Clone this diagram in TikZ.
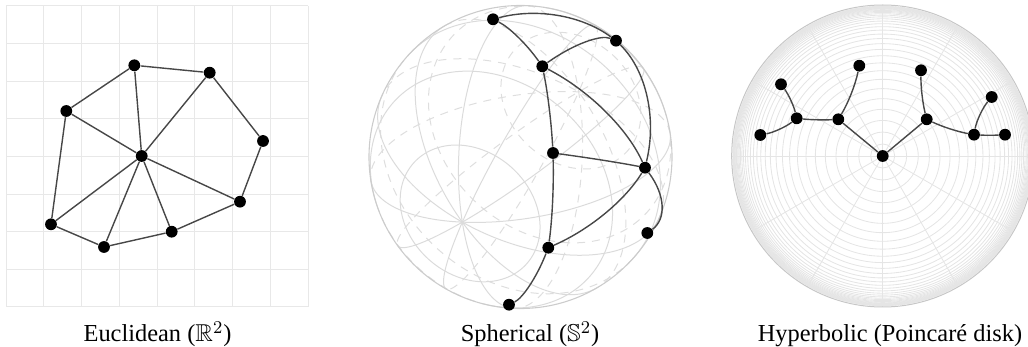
\documentclass[tikz,border=0pt]{standalone}
\usepackage{fontspec}
\setmainfont{Liberation Serif}
\usepackage{amssymb}
\pgfdeclarelayer{bg}
\pgfdeclarelayer{edgelayer}
\pgfsetlayers{bg,edgelayer,main}
\tikzset{
  dot/.style={circle,fill=black,inner sep=0pt,minimum size=5.9pt},
  edge/.style={draw=black!72,line width=0.7pt},
  eucgrid/.style={draw=black!9,line width=0.5pt},
  sphfront/.style={draw=black!14,line width=0.5pt},
  sphback/.style={draw=black!13,line width=0.5pt,dash pattern=on 4pt off 3.5pt},
  sphout/.style={draw=black!20,line width=0.55pt},
  hypline/.style={draw=black!10,line width=0.42pt},
  hypout/.style={draw=black!22,line width=0.5pt},
  lbl/.style={anchor=base,inner sep=0pt,font=\fontsize{12.2}{14}\selectfont},
}
% sphere: centre (520.5,157), radius 151.5 (pixel units)
\newcommand\sphpt[4]{%
  \pgfmathsetmacro\tmpx{(#2-520.5)/151.5}%
  \pgfmathsetmacro\tmpy{(#3-157)/151.5}%
  \pgfmathsetmacro\tmpz{(#4)*sqrt(max(0,1-(\tmpx)*(\tmpx)-(\tmpy)*(\tmpy)))}%
  \expandafter\xdef\csname SX#1\endcsname{\tmpx}%
  \expandafter\xdef\csname SY#1\endcsname{\tmpy}%
  \expandafter\xdef\csname SZ#1\endcsname{\tmpz}%
  \node[dot] (#1) at (#2,#3) {};%
}
\newcommand\sphedge[2]{%
  \edef\sAx{\csname SX#1\endcsname}\edef\sAy{\csname SY#1\endcsname}\edef\sAz{\csname SZ#1\endcsname}%
  \edef\sBx{\csname SX#2\endcsname}\edef\sBy{\csname SY#2\endcsname}\edef\sBz{\csname SZ#2\endcsname}%
  \pgfmathsetmacro\sCt{(\sAx)*(\sBx)+(\sAy)*(\sBy)+(\sAz)*(\sBz)}%
  \pgfmathsetmacro\sTh{acos(min(1,\sCt))}%
  \pgfmathsetmacro\sK{4/3*tan(\sTh/4)/sin(\sTh)}%
  \pgfmathsetmacro\sPx{520.5+151.5*((\sAx)+(\sK)*((\sBx)-(\sCt)*(\sAx)))}%
  \pgfmathsetmacro\sPy{157+151.5*((\sAy)+(\sK)*((\sBy)-(\sCt)*(\sAy)))}%
  \pgfmathsetmacro\sQx{520.5+151.5*((\sBx)+(\sK)*((\sAx)-(\sCt)*(\sBx)))}%
  \pgfmathsetmacro\sQy{157+151.5*((\sBy)+(\sK)*((\sAy)-(\sCt)*(\sBy)))}%
  \draw[edge] (#1) .. controls (\sPx,\sPy) and (\sQx,\sQy) .. (#2);%
}
\newcommand\sphcirc[9]{%
  \pgfmathsetmacro\gRz{sqrt((#6)*(#6)+(#9)*(#9))}%
  \pgfmathsetmacro\gPh{atan2(#9,#6)}%
  \pgfmathsetmacro\gH{max(-1,min(1,-(#3)/\gRz))}%
  \pgfmathsetmacro\gAl{acos(\gH)}%
  \pgfmathsetmacro\gA{\gPh-\gAl}%
  \pgfmathsetmacro\gB{\gPh+\gAl}%
  \pgfmathsetmacro\gC{\gPh+360-\gAl}%
  \ifdim\gAl pt>0.5pt
    \draw[sphfront] plot[domain=\gA:\gB,samples=80,smooth] ({520.5+151.5*((#1)+(#4)*cos(\x)+(#7)*sin(\x))},{157+151.5*((#2)+(#5)*cos(\x)+(#8)*sin(\x))});
  \fi
  \ifdim\gAl pt<179.5pt
    \draw[sphback] plot[domain=\gB:\gC,samples=80,smooth] ({520.5+151.5*((#1)+(#4)*cos(\x)+(#7)*sin(\x))},{157+151.5*((#2)+(#5)*cos(\x)+(#8)*sin(\x))});
  \fi
}
% hyperbolic disk: centre (882.7,156), radius 151
\newcommand\hyppt[3]{%
  \pgfmathsetmacro\tmpx{(#2-882.7)/151}%
  \pgfmathsetmacro\tmpy{(#3-156)/151}%
  \expandafter\xdef\csname HX#1\endcsname{\tmpx}%
  \expandafter\xdef\csname HY#1\endcsname{\tmpy}%
  \node[dot] (#1) at (#2,#3) {};%
}
\newcommand\hypedge[2]{%
  \edef\hPx{\csname HX#1\endcsname}\edef\hPy{\csname HY#1\endcsname}%
  \edef\hQx{\csname HX#2\endcsname}\edef\hQy{\csname HY#2\endcsname}%
  \pgfmathsetmacro\hDa{abs((\hPx)*(\hQy)-(\hPy)*(\hQx))}%
  \ifdim\hDa pt<0.002pt
    \draw[edge] (#1) -- (#2);%
  \else
    \pgfmathsetmacro\hD{(\hPx)*(\hQy)-(\hPy)*(\hQx)}%
    \pgfmathsetmacro\hS{((\hPx)*(\hPx)+(\hPy)*(\hPy)+1)/2}%
    \pgfmathsetmacro\hT{((\hQx)*(\hQx)+(\hQy)*(\hQy)+1)/2}%
    \pgfmathsetmacro\hCx{((\hS)*(\hQy)-(\hT)*(\hPy))/(\hD)}%
    \pgfmathsetmacro\hCy{((\hPx)*(\hT)-(\hQx)*(\hS))/(\hD)}%
    \pgfmathsetmacro\hUx{(\hPx)-(\hCx)}\pgfmathsetmacro\hUy{(\hPy)-(\hCy)}%
    \pgfmathsetmacro\hVx{(\hQx)-(\hCx)}\pgfmathsetmacro\hVy{(\hQy)-(\hCy)}%
    \pgfmathsetmacro\hCt{((\hUx)*(\hVx)+(\hUy)*(\hVy))/((\hUx)*(\hUx)+(\hUy)*(\hUy))}%
    \pgfmathsetmacro\hTh{acos(min(1,\hCt))}%
    \pgfmathsetmacro\hK{4/3*tan(\hTh/4)/sin(\hTh)}%
    \pgfmathsetmacro\hAx{882.7+151*((\hPx)+(\hK)*((\hVx)-(\hCt)*(\hUx)))}%
    \pgfmathsetmacro\hAy{156+151*((\hPy)+(\hK)*((\hVy)-(\hCt)*(\hUy)))}%
    \pgfmathsetmacro\hBx{882.7+151*((\hQx)+(\hK)*((\hUx)-(\hCt)*(\hVx)))}%
    \pgfmathsetmacro\hBy{156+151*((\hQy)+(\hK)*((\hUy)-(\hCt)*(\hVy)))}%
    \draw[edge] (#1) .. controls (\hAx,\hAy) and (\hBx,\hBy) .. (#2);%
  \fi
}
\begin{document}
\begin{tikzpicture}[x=0.5pt,y=-0.5pt]
\useasboundingbox (0,0) rectangle (1028,347);

% ---------------- Euclidean ----------------
\begin{pgfonlayer}{bg}
  \foreach \i in {0,...,8}{
    \draw[eucgrid] ({6+37.75*\i},6) -- ({6+37.75*\i},307);
    \draw[eucgrid] (6,{6+37.625*\i}) -- (308,{6+37.625*\i});
  }
\end{pgfonlayer}
\node[dot] (E1) at (134.3,65.3) {};
\node[dot] (E2) at (209.7,72.7) {};
\node[dot] (E3) at (66.3,111) {};
\node[dot] (E4) at (263,141) {};
\node[dot] (E0) at (141.7,156) {};
\node[dot] (E5) at (240,201.7) {};
\node[dot] (E6) at (51,224.3) {};
\node[dot] (E7) at (171.7,231.7) {};
\node[dot] (E8) at (104,247) {};
\begin{pgfonlayer}{edgelayer}
  \foreach \a/\b in {E1/E2,E1/E3,E1/E0,E2/E0,E2/E4,E3/E0,E3/E6,E4/E5,E5/E0,E5/E7,E7/E0,E7/E8,E8/E0,E8/E6,E6/E0}
    \draw[edge] (\a) -- (\b);
\end{pgfonlayer}
\node[lbl] (L1) at (157.5,342) {Euclidean ($\mathbb{R}^2$)};

% ---------------- Spherical ----------------
\begin{pgfonlayer}{bg}
  \foreach \lat in {-60,-30,0,30,60}{
    \pgfmathsetmacro\mS{sin(\lat)}\pgfmathsetmacro\mC{cos(\lat)}
    \sphcirc{\mS*(-0.384)}{\mS*0.430}{\mS*0.817}{\mC*0.7459}{\mC*0.6661}{0}{\mC*(-0.5442)}{\mC*0.6094}{\mC*(-0.5765)}
  }
  \foreach \lam in {15,45,...,165}{
    \pgfmathsetmacro\mS{sin(\lam)}\pgfmathsetmacro\mC{cos(\lam)}
    \sphcirc{0}{0}{0}{\mC*0.7459-\mS*0.5442}{\mC*0.6661+\mS*0.6094}{\mS*(-0.5765)}{-0.384}{0.430}{0.817}
  }
  \draw[sphout] (520.5,157) circle[radius=151.5];
\end{pgfonlayer}
\sphpt{P1}{493}{19.3}{1}
\sphpt{P2}{616}{40.7}{1}
\sphpt{P3}{542.3}{66.3}{1}
\sphpt{P4}{553}{153}{1}
\sphpt{P5}{645}{167.7}{1}
\sphpt{P6}{647.3}{233}{-1}
\sphpt{P7}{548.3}{247.7}{1}
\sphpt{P8}{509}{304.7}{1}
\begin{pgfonlayer}{edgelayer}
  \sphedge{P1}{P2}
  \sphedge{P1}{P3}
  \sphedge{P3}{P2}
  \sphedge{P2}{P5}
  \sphedge{P3}{P5}
  \sphedge{P3}{P4}
  \sphedge{P4}{P5}
  \sphedge{P4}{P7}
  \sphedge{P5}{P7}
  \sphedge{P5}{P6}
  \sphedge{P7}{P8}
\end{pgfonlayer}
\node[lbl] (L2) at (530,342) {Spherical ($\mathbb{S}^2$)};

% ---------------- Hyperbolic ----------------
\begin{pgfonlayer}{bg}
  \foreach \k in {1,...,34}
    \draw[hypline] (882.7,156) circle[radius={151*tanh(0.08*\k)}];
  \foreach \a in {0,30,...,330}
    \draw[hypline] (882.7,156) -- ++(\a:151);
  \draw[hypout] (882.7,156) circle[radius=151];
\end{pgfonlayer}
\hyppt{H0}{882.7}{156}
\hyppt{H1}{838.3}{119.3}
\hyppt{H2}{926.7}{119.3}
\hyppt{H3}{796.7}{118.3}
\hyppt{H4}{781}{84.3}
\hyppt{H5}{760.3}{135}
\hyppt{H6}{859.3}{65.7}
\hyppt{H7}{921}{70.3}
\hyppt{H8}{974}{134.7}
\hyppt{H9}{991.7}{97}
\hyppt{H10}{1005}{134.7}
\begin{pgfonlayer}{edgelayer}
  \hypedge{H0}{H1}
  \hypedge{H0}{H2}
  \hypedge{H1}{H3}
  \hypedge{H1}{H6}
  \hypedge{H3}{H4}
  \hypedge{H3}{H5}
  \hypedge{H2}{H7}
  \hypedge{H2}{H8}
  \hypedge{H8}{H9}
  \hypedge{H8}{H10}
\end{pgfonlayer}
\node[lbl] (L3) at (890,342) {Hyperbolic (Poincaré disk)};
\end{tikzpicture}
\end{document}
